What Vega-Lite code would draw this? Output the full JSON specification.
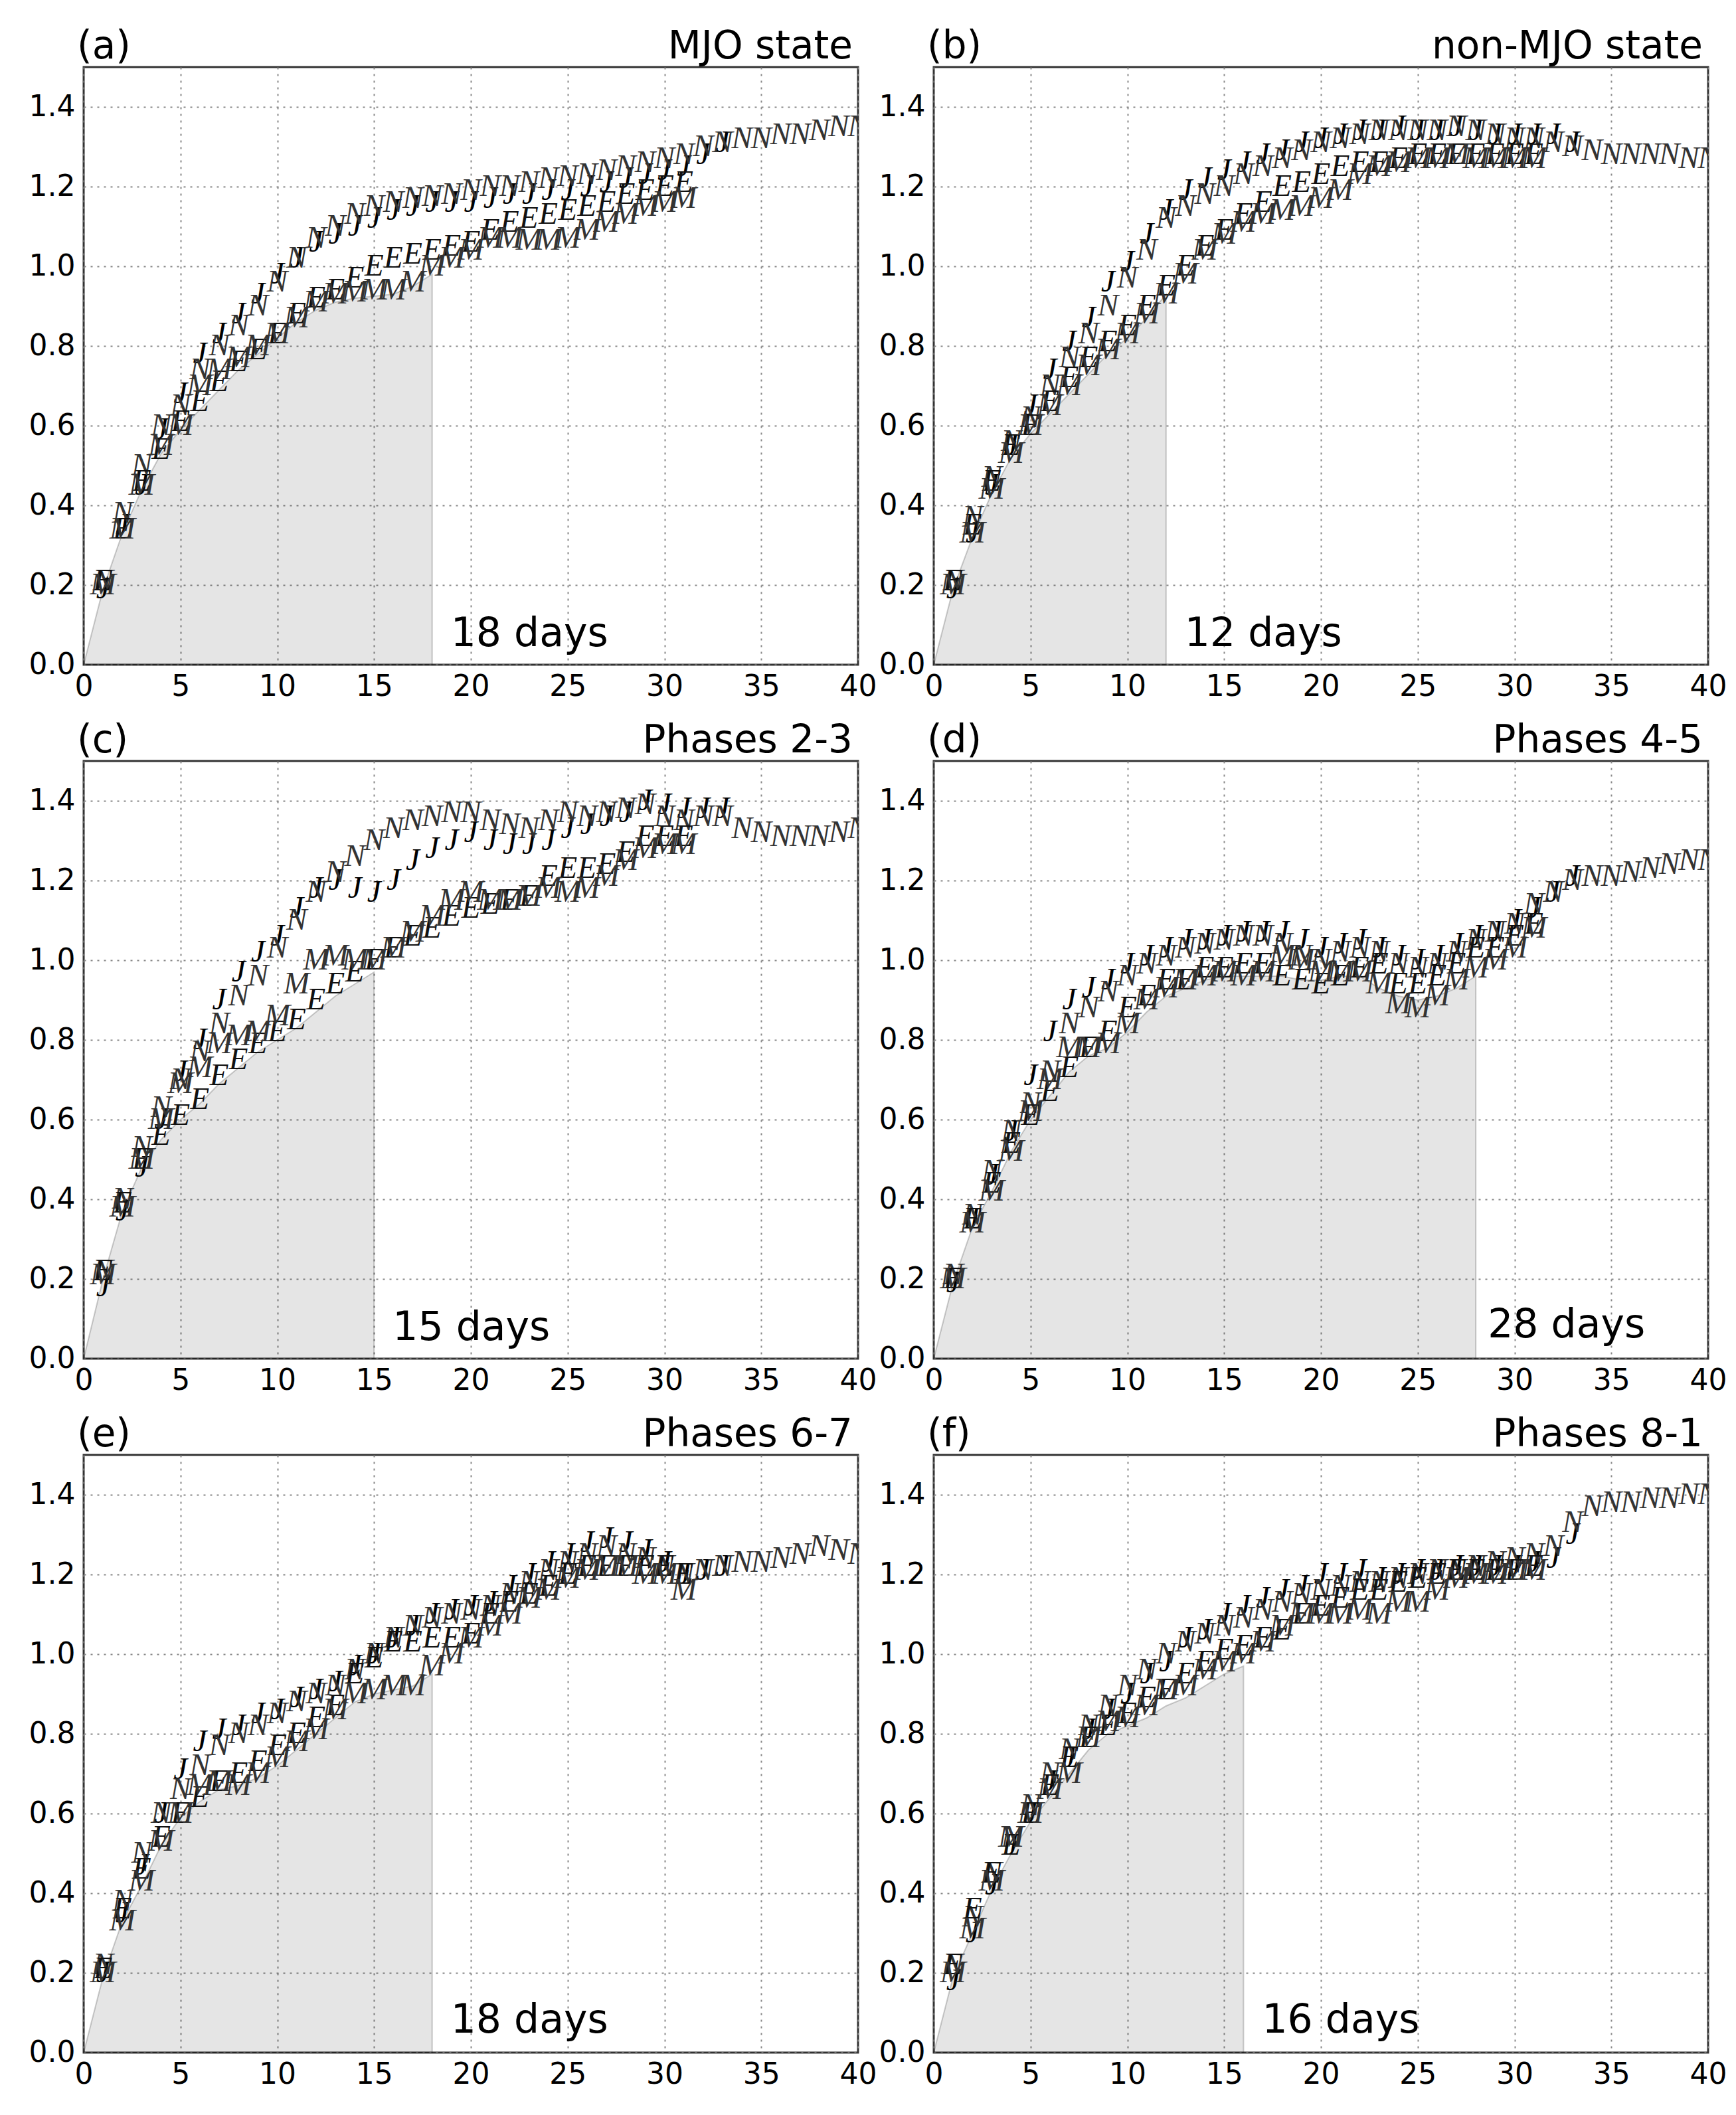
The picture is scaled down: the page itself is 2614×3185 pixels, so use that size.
{
  "$schema": "https://vega.github.io/schema/vega-lite/v6.json",
  "padding": {"left": 41, "top": 40, "right": 10, "bottom": 10},
  "datasets": {
    "panels": [
      {"p": "a", "tag": "(a)", "name": "MJO state", "cut": 18, "label": "18 days"},
      {"p": "b", "tag": "(b)", "name": "non-MJO state", "cut": 12, "label": "12 days"},
      {"p": "c", "tag": "(c)", "name": "Phases 2-3", "cut": 15, "label": "15 days"},
      {"p": "d", "tag": "(d)", "name": "Phases 4-5", "cut": 28, "label": "28 days"},
      {"p": "e", "tag": "(e)", "name": "Phases 6-7", "cut": 18, "label": "18 days"},
      {"p": "f", "tag": "(f)", "name": "Phases 8-1", "cut": 16, "label": "16 days"}
    ],
    "shade": [
      {"p":"a","d":0,"v":0},{"p":"a","d":1,"v":0.19},{"p":"a","d":2,"v":0.33},{"p":"a","d":3,"v":0.44},{"p":"a","d":4,"v":0.53},{"p":"a","d":5,"v":0.59},{"p":"a","d":6,"v":0.64},{"p":"a","d":7,"v":0.69},{"p":"a","d":8,"v":0.74},{"p":"a","d":9,"v":0.78},{"p":"a","d":10,"v":0.82},{"p":"a","d":11,"v":0.86},{"p":"a","d":12,"v":0.89},{"p":"a","d":13,"v":0.91},{"p":"a","d":14,"v":0.92},{"p":"a","d":15,"v":0.925},{"p":"a","d":16,"v":0.93},{"p":"a","d":17,"v":0.95},{"p":"a","d":18,"v":0.98},
      {"p":"b","d":0,"v":0},{"p":"b","d":1,"v":0.19},{"p":"b","d":2,"v":0.32},{"p":"b","d":3,"v":0.43},{"p":"b","d":4,"v":0.52},{"p":"b","d":5,"v":0.58},{"p":"b","d":6,"v":0.63},{"p":"b","d":7,"v":0.68},{"p":"b","d":8,"v":0.73},{"p":"b","d":9,"v":0.78},{"p":"b","d":10,"v":0.82},{"p":"b","d":11,"v":0.87},{"p":"b","d":12,"v":0.93},
      {"p":"c","d":0,"v":0},{"p":"c","d":1,"v":0.2},{"p":"c","d":2,"v":0.37},{"p":"c","d":3,"v":0.48},{"p":"c","d":4,"v":0.55},{"p":"c","d":5,"v":0.6},{"p":"c","d":6,"v":0.64},{"p":"c","d":7,"v":0.69},{"p":"c","d":8,"v":0.73},{"p":"c","d":9,"v":0.77},{"p":"c","d":10,"v":0.8},{"p":"c","d":11,"v":0.83},{"p":"c","d":12,"v":0.87},{"p":"c","d":13,"v":0.91},{"p":"c","d":14,"v":0.94},{"p":"c","d":15,"v":0.97},
      {"p":"d","d":0,"v":0},{"p":"d","d":1,"v":0.19},{"p":"d","d":2,"v":0.33},{"p":"d","d":3,"v":0.42},{"p":"d","d":4,"v":0.52},{"p":"d","d":5,"v":0.6},{"p":"d","d":6,"v":0.66},{"p":"d","d":7,"v":0.72},{"p":"d","d":8,"v":0.76},{"p":"d","d":9,"v":0.78},{"p":"d","d":10,"v":0.82},{"p":"d","d":11,"v":0.87},{"p":"d","d":12,"v":0.91},{"p":"d","d":13,"v":0.93},{"p":"d","d":14,"v":0.95},{"p":"d","d":15,"v":0.96},{"p":"d","d":16,"v":0.96},{"p":"d","d":17,"v":0.96},{"p":"d","d":18,"v":0.96},{"p":"d","d":19,"v":0.95},{"p":"d","d":20,"v":0.95},{"p":"d","d":21,"v":0.96},{"p":"d","d":22,"v":0.96},{"p":"d","d":23,"v":0.93},{"p":"d","d":24,"v":0.91},{"p":"d","d":25,"v":0.9},{"p":"d","d":26,"v":0.91},{"p":"d","d":27,"v":0.93},{"p":"d","d":28,"v":0.96},
      {"p":"e","d":0,"v":0},{"p":"e","d":1,"v":0.19},{"p":"e","d":2,"v":0.33},{"p":"e","d":3,"v":0.42},{"p":"e","d":4,"v":0.52},{"p":"e","d":5,"v":0.59},{"p":"e","d":6,"v":0.63},{"p":"e","d":7,"v":0.66},{"p":"e","d":8,"v":0.67},{"p":"e","d":9,"v":0.69},{"p":"e","d":10,"v":0.72},{"p":"e","d":11,"v":0.76},{"p":"e","d":12,"v":0.8},{"p":"e","d":13,"v":0.84},{"p":"e","d":14,"v":0.88},{"p":"e","d":15,"v":0.9},{"p":"e","d":16,"v":0.91},{"p":"e","d":17,"v":0.92},{"p":"e","d":18,"v":0.95},
      {"p":"f","d":0,"v":0},{"p":"f","d":1,"v":0.19},{"p":"f","d":2,"v":0.3},{"p":"f","d":3,"v":0.41},{"p":"f","d":4,"v":0.5},{"p":"f","d":5,"v":0.58},{"p":"f","d":6,"v":0.64},{"p":"f","d":7,"v":0.7},{"p":"f","d":8,"v":0.76},{"p":"f","d":9,"v":0.8},{"p":"f","d":10,"v":0.82},{"p":"f","d":11,"v":0.84},{"p":"f","d":12,"v":0.87},{"p":"f","d":13,"v":0.89},{"p":"f","d":14,"v":0.92},{"p":"f","d":15,"v":0.95},{"p":"f","d":16,"v":0.97}
    ],
    "pts": [
      {"p":"a","s":"J","d":1,"v":0.19},{"p":"a","s":"J","d":2,"v":0.35},{"p":"a","s":"J","d":3,"v":0.45},{"p":"a","s":"J","d":4,"v":0.59},{"p":"a","s":"J","d":5,"v":0.68},{"p":"a","s":"J","d":6,"v":0.78},{"p":"a","s":"J","d":7,"v":0.83},{"p":"a","s":"J","d":8,"v":0.88},{"p":"a","s":"J","d":9,"v":0.93},{"p":"a","s":"J","d":10,"v":0.98},{"p":"a","s":"J","d":11,"v":1.02},{"p":"a","s":"J","d":12,"v":1.06},{"p":"a","s":"J","d":13,"v":1.08},{"p":"a","s":"J","d":14,"v":1.1},{"p":"a","s":"J","d":15,"v":1.12},{"p":"a","s":"J","d":16,"v":1.14},{"p":"a","s":"J","d":17,"v":1.15},{"p":"a","s":"J","d":18,"v":1.16},{"p":"a","s":"J","d":19,"v":1.16},{"p":"a","s":"J","d":20,"v":1.16},{"p":"a","s":"J","d":21,"v":1.17},{"p":"a","s":"J","d":22,"v":1.18},{"p":"a","s":"J","d":23,"v":1.18},{"p":"a","s":"J","d":24,"v":1.19},{"p":"a","s":"J","d":25,"v":1.19},{"p":"a","s":"J","d":26,"v":1.2},{"p":"a","s":"J","d":27,"v":1.21},{"p":"a","s":"J","d":28,"v":1.22},{"p":"a","s":"J","d":29,"v":1.23},{"p":"a","s":"J","d":30,"v":1.24},{"p":"a","s":"J","d":31,"v":1.25},{"p":"a","s":"J","d":32,"v":1.28},{"p":"a","s":"J","d":33,"v":1.31},
      {"p":"a","s":"N","d":1,"v":0.21},{"p":"a","s":"N","d":2,"v":0.38},{"p":"a","s":"N","d":3,"v":0.5},{"p":"a","s":"N","d":4,"v":0.6},{"p":"a","s":"N","d":5,"v":0.65},{"p":"a","s":"N","d":6,"v":0.74},{"p":"a","s":"N","d":7,"v":0.8},{"p":"a","s":"N","d":8,"v":0.85},{"p":"a","s":"N","d":9,"v":0.9},{"p":"a","s":"N","d":10,"v":0.96},{"p":"a","s":"N","d":11,"v":1.02},{"p":"a","s":"N","d":12,"v":1.07},{"p":"a","s":"N","d":13,"v":1.1},{"p":"a","s":"N","d":14,"v":1.13},{"p":"a","s":"N","d":15,"v":1.15},{"p":"a","s":"N","d":16,"v":1.16},{"p":"a","s":"N","d":17,"v":1.17},{"p":"a","s":"N","d":18,"v":1.175},{"p":"a","s":"N","d":19,"v":1.18},{"p":"a","s":"N","d":20,"v":1.19},{"p":"a","s":"N","d":21,"v":1.2},{"p":"a","s":"N","d":22,"v":1.2},{"p":"a","s":"N","d":23,"v":1.21},{"p":"a","s":"N","d":24,"v":1.22},{"p":"a","s":"N","d":25,"v":1.225},{"p":"a","s":"N","d":26,"v":1.23},{"p":"a","s":"N","d":27,"v":1.24},{"p":"a","s":"N","d":28,"v":1.25},{"p":"a","s":"N","d":29,"v":1.26},{"p":"a","s":"N","d":30,"v":1.27},{"p":"a","s":"N","d":31,"v":1.28},{"p":"a","s":"N","d":32,"v":1.3},{"p":"a","s":"N","d":33,"v":1.31},{"p":"a","s":"N","d":34,"v":1.32},{"p":"a","s":"N","d":35,"v":1.32},{"p":"a","s":"N","d":36,"v":1.33},{"p":"a","s":"N","d":37,"v":1.33},{"p":"a","s":"N","d":38,"v":1.34},{"p":"a","s":"N","d":39,"v":1.35},{"p":"a","s":"N","d":40,"v":1.35},
      {"p":"a","s":"E","d":1,"v":0.21},{"p":"a","s":"E","d":2,"v":0.34},{"p":"a","s":"E","d":3,"v":0.46},{"p":"a","s":"E","d":4,"v":0.54},{"p":"a","s":"E","d":5,"v":0.61},{"p":"a","s":"E","d":6,"v":0.66},{"p":"a","s":"E","d":7,"v":0.71},{"p":"a","s":"E","d":8,"v":0.76},{"p":"a","s":"E","d":9,"v":0.79},{"p":"a","s":"E","d":10,"v":0.83},{"p":"a","s":"E","d":11,"v":0.88},{"p":"a","s":"E","d":12,"v":0.92},{"p":"a","s":"E","d":13,"v":0.94},{"p":"a","s":"E","d":14,"v":0.97},{"p":"a","s":"E","d":15,"v":1.0},{"p":"a","s":"E","d":16,"v":1.02},{"p":"a","s":"E","d":17,"v":1.03},{"p":"a","s":"E","d":18,"v":1.04},{"p":"a","s":"E","d":19,"v":1.05},{"p":"a","s":"E","d":20,"v":1.06},{"p":"a","s":"E","d":21,"v":1.09},{"p":"a","s":"E","d":22,"v":1.11},{"p":"a","s":"E","d":23,"v":1.12},{"p":"a","s":"E","d":24,"v":1.13},{"p":"a","s":"E","d":25,"v":1.14},{"p":"a","s":"E","d":26,"v":1.15},{"p":"a","s":"E","d":27,"v":1.16},{"p":"a","s":"E","d":28,"v":1.18},{"p":"a","s":"E","d":29,"v":1.19},{"p":"a","s":"E","d":30,"v":1.2},{"p":"a","s":"E","d":31,"v":1.21},
      {"p":"a","s":"M","d":1,"v":0.2},{"p":"a","s":"M","d":2,"v":0.34},{"p":"a","s":"M","d":3,"v":0.45},{"p":"a","s":"M","d":4,"v":0.55},{"p":"a","s":"M","d":5,"v":0.6},{"p":"a","s":"M","d":6,"v":0.7},{"p":"a","s":"M","d":7,"v":0.74},{"p":"a","s":"M","d":8,"v":0.77},{"p":"a","s":"M","d":9,"v":0.8},{"p":"a","s":"M","d":10,"v":0.83},{"p":"a","s":"M","d":11,"v":0.87},{"p":"a","s":"M","d":12,"v":0.91},{"p":"a","s":"M","d":13,"v":0.93},{"p":"a","s":"M","d":14,"v":0.935},{"p":"a","s":"M","d":15,"v":0.94},{"p":"a","s":"M","d":16,"v":0.94},{"p":"a","s":"M","d":17,"v":0.96},{"p":"a","s":"M","d":18,"v":1.0},{"p":"a","s":"M","d":19,"v":1.02},{"p":"a","s":"M","d":20,"v":1.04},{"p":"a","s":"M","d":21,"v":1.07},{"p":"a","s":"M","d":22,"v":1.07},{"p":"a","s":"M","d":23,"v":1.065},{"p":"a","s":"M","d":24,"v":1.065},{"p":"a","s":"M","d":25,"v":1.07},{"p":"a","s":"M","d":26,"v":1.09},{"p":"a","s":"M","d":27,"v":1.11},{"p":"a","s":"M","d":28,"v":1.13},{"p":"a","s":"M","d":29,"v":1.15},{"p":"a","s":"M","d":30,"v":1.16},{"p":"a","s":"M","d":31,"v":1.17},

      {"p":"b","s":"J","d":1,"v":0.19},{"p":"b","s":"J","d":2,"v":0.33},{"p":"b","s":"J","d":3,"v":0.45},{"p":"b","s":"J","d":4,"v":0.55},{"p":"b","s":"J","d":5,"v":0.65},{"p":"b","s":"J","d":6,"v":0.74},{"p":"b","s":"J","d":7,"v":0.81},{"p":"b","s":"J","d":8,"v":0.87},{"p":"b","s":"J","d":9,"v":0.96},{"p":"b","s":"J","d":10,"v":1.01},{"p":"b","s":"J","d":11,"v":1.08},{"p":"b","s":"J","d":12,"v":1.14},{"p":"b","s":"J","d":13,"v":1.19},{"p":"b","s":"J","d":14,"v":1.22},{"p":"b","s":"J","d":15,"v":1.24},{"p":"b","s":"J","d":16,"v":1.26},{"p":"b","s":"J","d":17,"v":1.28},{"p":"b","s":"J","d":18,"v":1.29},{"p":"b","s":"J","d":19,"v":1.31},{"p":"b","s":"J","d":20,"v":1.32},{"p":"b","s":"J","d":21,"v":1.33},{"p":"b","s":"J","d":22,"v":1.34},{"p":"b","s":"J","d":23,"v":1.34},{"p":"b","s":"J","d":24,"v":1.35},{"p":"b","s":"J","d":25,"v":1.34},{"p":"b","s":"J","d":26,"v":1.34},{"p":"b","s":"J","d":27,"v":1.35},{"p":"b","s":"J","d":28,"v":1.34},{"p":"b","s":"J","d":29,"v":1.33},{"p":"b","s":"J","d":30,"v":1.33},{"p":"b","s":"J","d":31,"v":1.33},{"p":"b","s":"J","d":32,"v":1.33},{"p":"b","s":"J","d":33,"v":1.31},
      {"p":"b","s":"N","d":1,"v":0.21},{"p":"b","s":"N","d":2,"v":0.37},{"p":"b","s":"N","d":3,"v":0.47},{"p":"b","s":"N","d":4,"v":0.56},{"p":"b","s":"N","d":5,"v":0.62},{"p":"b","s":"N","d":6,"v":0.7},{"p":"b","s":"N","d":7,"v":0.77},{"p":"b","s":"N","d":8,"v":0.83},{"p":"b","s":"N","d":9,"v":0.9},{"p":"b","s":"N","d":10,"v":0.97},{"p":"b","s":"N","d":11,"v":1.04},{"p":"b","s":"N","d":12,"v":1.12},{"p":"b","s":"N","d":13,"v":1.15},{"p":"b","s":"N","d":14,"v":1.18},{"p":"b","s":"N","d":15,"v":1.2},{"p":"b","s":"N","d":16,"v":1.23},{"p":"b","s":"N","d":17,"v":1.25},{"p":"b","s":"N","d":18,"v":1.27},{"p":"b","s":"N","d":19,"v":1.29},{"p":"b","s":"N","d":20,"v":1.31},{"p":"b","s":"N","d":21,"v":1.32},{"p":"b","s":"N","d":22,"v":1.33},{"p":"b","s":"N","d":23,"v":1.34},{"p":"b","s":"N","d":24,"v":1.34},{"p":"b","s":"N","d":25,"v":1.34},{"p":"b","s":"N","d":26,"v":1.34},{"p":"b","s":"N","d":27,"v":1.35},{"p":"b","s":"N","d":28,"v":1.34},{"p":"b","s":"N","d":29,"v":1.33},{"p":"b","s":"N","d":30,"v":1.32},{"p":"b","s":"N","d":31,"v":1.32},{"p":"b","s":"N","d":32,"v":1.31},{"p":"b","s":"N","d":33,"v":1.3},{"p":"b","s":"N","d":34,"v":1.29},{"p":"b","s":"N","d":35,"v":1.28},{"p":"b","s":"N","d":36,"v":1.28},{"p":"b","s":"N","d":37,"v":1.28},{"p":"b","s":"N","d":38,"v":1.28},{"p":"b","s":"N","d":39,"v":1.27},{"p":"b","s":"N","d":40,"v":1.27},
      {"p":"b","s":"E","d":1,"v":0.21},{"p":"b","s":"E","d":2,"v":0.35},{"p":"b","s":"E","d":3,"v":0.46},{"p":"b","s":"E","d":4,"v":0.55},{"p":"b","s":"E","d":5,"v":0.6},{"p":"b","s":"E","d":6,"v":0.66},{"p":"b","s":"E","d":7,"v":0.72},{"p":"b","s":"E","d":8,"v":0.77},{"p":"b","s":"E","d":9,"v":0.81},{"p":"b","s":"E","d":10,"v":0.85},{"p":"b","s":"E","d":11,"v":0.9},{"p":"b","s":"E","d":12,"v":0.95},{"p":"b","s":"E","d":13,"v":1.0},{"p":"b","s":"E","d":14,"v":1.05},{"p":"b","s":"E","d":15,"v":1.09},{"p":"b","s":"E","d":16,"v":1.13},{"p":"b","s":"E","d":17,"v":1.16},{"p":"b","s":"E","d":18,"v":1.2},{"p":"b","s":"E","d":19,"v":1.21},{"p":"b","s":"E","d":20,"v":1.23},{"p":"b","s":"E","d":21,"v":1.25},{"p":"b","s":"E","d":22,"v":1.26},{"p":"b","s":"E","d":23,"v":1.26},{"p":"b","s":"E","d":24,"v":1.27},{"p":"b","s":"E","d":25,"v":1.28},{"p":"b","s":"E","d":26,"v":1.28},{"p":"b","s":"E","d":27,"v":1.28},{"p":"b","s":"E","d":28,"v":1.28},{"p":"b","s":"E","d":29,"v":1.28},{"p":"b","s":"E","d":30,"v":1.28},{"p":"b","s":"E","d":31,"v":1.28},
      {"p":"b","s":"M","d":1,"v":0.2},{"p":"b","s":"M","d":2,"v":0.33},{"p":"b","s":"M","d":3,"v":0.44},{"p":"b","s":"M","d":4,"v":0.53},{"p":"b","s":"M","d":5,"v":0.6},{"p":"b","s":"M","d":6,"v":0.65},{"p":"b","s":"M","d":7,"v":0.7},{"p":"b","s":"M","d":8,"v":0.75},{"p":"b","s":"M","d":9,"v":0.79},{"p":"b","s":"M","d":10,"v":0.83},{"p":"b","s":"M","d":11,"v":0.88},{"p":"b","s":"M","d":12,"v":0.93},{"p":"b","s":"M","d":13,"v":0.98},{"p":"b","s":"M","d":14,"v":1.04},{"p":"b","s":"M","d":15,"v":1.08},{"p":"b","s":"M","d":16,"v":1.11},{"p":"b","s":"M","d":17,"v":1.13},{"p":"b","s":"M","d":18,"v":1.14},{"p":"b","s":"M","d":19,"v":1.15},{"p":"b","s":"M","d":20,"v":1.17},{"p":"b","s":"M","d":21,"v":1.19},{"p":"b","s":"M","d":22,"v":1.23},{"p":"b","s":"M","d":23,"v":1.25},{"p":"b","s":"M","d":24,"v":1.26},{"p":"b","s":"M","d":25,"v":1.27},{"p":"b","s":"M","d":26,"v":1.27},{"p":"b","s":"M","d":27,"v":1.28},{"p":"b","s":"M","d":28,"v":1.27},{"p":"b","s":"M","d":29,"v":1.27},{"p":"b","s":"M","d":30,"v":1.27},{"p":"b","s":"M","d":31,"v":1.27},

      {"p":"c","s":"J","d":1,"v":0.18},{"p":"c","s":"J","d":2,"v":0.37},{"p":"c","s":"J","d":3,"v":0.48},{"p":"c","s":"J","d":4,"v":0.6},{"p":"c","s":"J","d":5,"v":0.72},{"p":"c","s":"J","d":6,"v":0.8},{"p":"c","s":"J","d":7,"v":0.9},{"p":"c","s":"J","d":8,"v":0.97},{"p":"c","s":"J","d":9,"v":1.02},{"p":"c","s":"J","d":10,"v":1.06},{"p":"c","s":"J","d":11,"v":1.13},{"p":"c","s":"J","d":12,"v":1.18},{"p":"c","s":"J","d":13,"v":1.2},{"p":"c","s":"J","d":14,"v":1.18},{"p":"c","s":"J","d":15,"v":1.17},{"p":"c","s":"J","d":16,"v":1.2},{"p":"c","s":"J","d":17,"v":1.25},{"p":"c","s":"J","d":18,"v":1.28},{"p":"c","s":"J","d":19,"v":1.3},{"p":"c","s":"J","d":20,"v":1.32},{"p":"c","s":"J","d":21,"v":1.3},{"p":"c","s":"J","d":22,"v":1.29},{"p":"c","s":"J","d":23,"v":1.29},{"p":"c","s":"J","d":24,"v":1.3},{"p":"c","s":"J","d":25,"v":1.33},{"p":"c","s":"J","d":26,"v":1.34},{"p":"c","s":"J","d":27,"v":1.36},{"p":"c","s":"J","d":28,"v":1.37},{"p":"c","s":"J","d":29,"v":1.4},{"p":"c","s":"J","d":30,"v":1.39},{"p":"c","s":"J","d":31,"v":1.38},{"p":"c","s":"J","d":32,"v":1.38},{"p":"c","s":"J","d":33,"v":1.38},
      {"p":"c","s":"N","d":1,"v":0.22},{"p":"c","s":"N","d":2,"v":0.4},{"p":"c","s":"N","d":3,"v":0.53},{"p":"c","s":"N","d":4,"v":0.63},{"p":"c","s":"N","d":5,"v":0.7},{"p":"c","s":"N","d":6,"v":0.77},{"p":"c","s":"N","d":7,"v":0.84},{"p":"c","s":"N","d":8,"v":0.91},{"p":"c","s":"N","d":9,"v":0.96},{"p":"c","s":"N","d":10,"v":1.03},{"p":"c","s":"N","d":11,"v":1.1},{"p":"c","s":"N","d":12,"v":1.17},{"p":"c","s":"N","d":13,"v":1.22},{"p":"c","s":"N","d":14,"v":1.26},{"p":"c","s":"N","d":15,"v":1.3},{"p":"c","s":"N","d":16,"v":1.33},{"p":"c","s":"N","d":17,"v":1.35},{"p":"c","s":"N","d":18,"v":1.36},{"p":"c","s":"N","d":19,"v":1.37},{"p":"c","s":"N","d":20,"v":1.37},{"p":"c","s":"N","d":21,"v":1.35},{"p":"c","s":"N","d":22,"v":1.34},{"p":"c","s":"N","d":23,"v":1.33},{"p":"c","s":"N","d":24,"v":1.35},{"p":"c","s":"N","d":25,"v":1.37},{"p":"c","s":"N","d":26,"v":1.36},{"p":"c","s":"N","d":27,"v":1.37},{"p":"c","s":"N","d":28,"v":1.38},{"p":"c","s":"N","d":29,"v":1.39},{"p":"c","s":"N","d":30,"v":1.36},{"p":"c","s":"N","d":31,"v":1.35},{"p":"c","s":"N","d":32,"v":1.36},{"p":"c","s":"N","d":33,"v":1.36},{"p":"c","s":"N","d":34,"v":1.33},{"p":"c","s":"N","d":35,"v":1.32},{"p":"c","s":"N","d":36,"v":1.31},{"p":"c","s":"N","d":37,"v":1.31},{"p":"c","s":"N","d":38,"v":1.31},{"p":"c","s":"N","d":39,"v":1.32},{"p":"c","s":"N","d":40,"v":1.33},
      {"p":"c","s":"E","d":1,"v":0.22},{"p":"c","s":"E","d":2,"v":0.39},{"p":"c","s":"E","d":3,"v":0.5},{"p":"c","s":"E","d":4,"v":0.56},{"p":"c","s":"E","d":5,"v":0.61},{"p":"c","s":"E","d":6,"v":0.65},{"p":"c","s":"E","d":7,"v":0.71},{"p":"c","s":"E","d":8,"v":0.75},{"p":"c","s":"E","d":9,"v":0.79},{"p":"c","s":"E","d":10,"v":0.82},{"p":"c","s":"E","d":11,"v":0.85},{"p":"c","s":"E","d":12,"v":0.9},{"p":"c","s":"E","d":13,"v":0.94},{"p":"c","s":"E","d":14,"v":0.97},{"p":"c","s":"E","d":15,"v":1.0},{"p":"c","s":"E","d":16,"v":1.03},{"p":"c","s":"E","d":17,"v":1.06},{"p":"c","s":"E","d":18,"v":1.08},{"p":"c","s":"E","d":19,"v":1.11},{"p":"c","s":"E","d":20,"v":1.13},{"p":"c","s":"E","d":21,"v":1.14},{"p":"c","s":"E","d":22,"v":1.15},{"p":"c","s":"E","d":23,"v":1.16},{"p":"c","s":"E","d":24,"v":1.21},{"p":"c","s":"E","d":25,"v":1.23},{"p":"c","s":"E","d":26,"v":1.23},{"p":"c","s":"E","d":27,"v":1.24},{"p":"c","s":"E","d":28,"v":1.27},{"p":"c","s":"E","d":29,"v":1.31},{"p":"c","s":"E","d":30,"v":1.31},{"p":"c","s":"E","d":31,"v":1.31},
      {"p":"c","s":"M","d":1,"v":0.21},{"p":"c","s":"M","d":2,"v":0.38},{"p":"c","s":"M","d":3,"v":0.5},{"p":"c","s":"M","d":4,"v":0.6},{"p":"c","s":"M","d":5,"v":0.69},{"p":"c","s":"M","d":6,"v":0.73},{"p":"c","s":"M","d":7,"v":0.79},{"p":"c","s":"M","d":8,"v":0.81},{"p":"c","s":"M","d":9,"v":0.82},{"p":"c","s":"M","d":10,"v":0.86},{"p":"c","s":"M","d":11,"v":0.94},{"p":"c","s":"M","d":12,"v":1.0},{"p":"c","s":"M","d":13,"v":1.01},{"p":"c","s":"M","d":14,"v":1.0},{"p":"c","s":"M","d":15,"v":1.0},{"p":"c","s":"M","d":16,"v":1.03},{"p":"c","s":"M","d":17,"v":1.07},{"p":"c","s":"M","d":18,"v":1.11},{"p":"c","s":"M","d":19,"v":1.15},{"p":"c","s":"M","d":20,"v":1.17},{"p":"c","s":"M","d":21,"v":1.15},{"p":"c","s":"M","d":22,"v":1.15},{"p":"c","s":"M","d":23,"v":1.16},{"p":"c","s":"M","d":24,"v":1.18},{"p":"c","s":"M","d":25,"v":1.17},{"p":"c","s":"M","d":26,"v":1.18},{"p":"c","s":"M","d":27,"v":1.21},{"p":"c","s":"M","d":28,"v":1.25},{"p":"c","s":"M","d":29,"v":1.28},{"p":"c","s":"M","d":30,"v":1.29},{"p":"c","s":"M","d":31,"v":1.29},

      {"p":"d","s":"J","d":1,"v":0.19},{"p":"d","s":"J","d":2,"v":0.35},{"p":"d","s":"J","d":3,"v":0.46},{"p":"d","s":"J","d":4,"v":0.57},{"p":"d","s":"J","d":5,"v":0.71},{"p":"d","s":"J","d":6,"v":0.82},{"p":"d","s":"J","d":7,"v":0.9},{"p":"d","s":"J","d":8,"v":0.93},{"p":"d","s":"J","d":9,"v":0.95},{"p":"d","s":"J","d":10,"v":0.99},{"p":"d","s":"J","d":11,"v":1.01},{"p":"d","s":"J","d":12,"v":1.03},{"p":"d","s":"J","d":13,"v":1.05},{"p":"d","s":"J","d":14,"v":1.05},{"p":"d","s":"J","d":15,"v":1.06},{"p":"d","s":"J","d":16,"v":1.07},{"p":"d","s":"J","d":17,"v":1.07},{"p":"d","s":"J","d":18,"v":1.07},{"p":"d","s":"J","d":19,"v":1.05},{"p":"d","s":"J","d":20,"v":1.03},{"p":"d","s":"J","d":21,"v":1.04},{"p":"d","s":"J","d":22,"v":1.05},{"p":"d","s":"J","d":23,"v":1.03},{"p":"d","s":"J","d":24,"v":1.01},{"p":"d","s":"J","d":25,"v":1.0},{"p":"d","s":"J","d":26,"v":1.01},{"p":"d","s":"J","d":27,"v":1.04},{"p":"d","s":"J","d":28,"v":1.06},{"p":"d","s":"J","d":29,"v":1.07},{"p":"d","s":"J","d":30,"v":1.1},{"p":"d","s":"J","d":31,"v":1.13},{"p":"d","s":"J","d":32,"v":1.17},{"p":"d","s":"J","d":33,"v":1.21},
      {"p":"d","s":"N","d":1,"v":0.21},{"p":"d","s":"N","d":2,"v":0.36},{"p":"d","s":"N","d":3,"v":0.47},{"p":"d","s":"N","d":4,"v":0.57},{"p":"d","s":"N","d":5,"v":0.64},{"p":"d","s":"N","d":6,"v":0.72},{"p":"d","s":"N","d":7,"v":0.84},{"p":"d","s":"N","d":8,"v":0.88},{"p":"d","s":"N","d":9,"v":0.92},{"p":"d","s":"N","d":10,"v":0.96},{"p":"d","s":"N","d":11,"v":0.99},{"p":"d","s":"N","d":12,"v":1.01},{"p":"d","s":"N","d":13,"v":1.03},{"p":"d","s":"N","d":14,"v":1.04},{"p":"d","s":"N","d":15,"v":1.05},{"p":"d","s":"N","d":16,"v":1.06},{"p":"d","s":"N","d":17,"v":1.06},{"p":"d","s":"N","d":18,"v":1.04},{"p":"d","s":"N","d":19,"v":1.01},{"p":"d","s":"N","d":20,"v":1.0},{"p":"d","s":"N","d":21,"v":1.02},{"p":"d","s":"N","d":22,"v":1.03},{"p":"d","s":"N","d":23,"v":1.02},{"p":"d","s":"N","d":24,"v":0.99},{"p":"d","s":"N","d":25,"v":0.98},{"p":"d","s":"N","d":26,"v":0.99},{"p":"d","s":"N","d":27,"v":1.02},{"p":"d","s":"N","d":28,"v":1.05},{"p":"d","s":"N","d":29,"v":1.07},{"p":"d","s":"N","d":30,"v":1.09},{"p":"d","s":"N","d":31,"v":1.14},{"p":"d","s":"N","d":32,"v":1.17},{"p":"d","s":"N","d":33,"v":1.2},{"p":"d","s":"N","d":34,"v":1.21},{"p":"d","s":"N","d":35,"v":1.21},{"p":"d","s":"N","d":36,"v":1.22},{"p":"d","s":"N","d":37,"v":1.23},{"p":"d","s":"N","d":38,"v":1.24},{"p":"d","s":"N","d":39,"v":1.25},{"p":"d","s":"N","d":40,"v":1.25},
      {"p":"d","s":"E","d":1,"v":0.2},{"p":"d","s":"E","d":2,"v":0.35},{"p":"d","s":"E","d":3,"v":0.44},{"p":"d","s":"E","d":4,"v":0.54},{"p":"d","s":"E","d":5,"v":0.61},{"p":"d","s":"E","d":6,"v":0.67},{"p":"d","s":"E","d":7,"v":0.73},{"p":"d","s":"E","d":8,"v":0.78},{"p":"d","s":"E","d":9,"v":0.82},{"p":"d","s":"E","d":10,"v":0.88},{"p":"d","s":"E","d":11,"v":0.91},{"p":"d","s":"E","d":12,"v":0.95},{"p":"d","s":"E","d":13,"v":0.95},{"p":"d","s":"E","d":14,"v":0.98},{"p":"d","s":"E","d":15,"v":0.98},{"p":"d","s":"E","d":16,"v":0.99},{"p":"d","s":"E","d":17,"v":0.99},{"p":"d","s":"E","d":18,"v":0.96},{"p":"d","s":"E","d":19,"v":0.95},{"p":"d","s":"E","d":20,"v":0.94},{"p":"d","s":"E","d":21,"v":0.96},{"p":"d","s":"E","d":22,"v":0.98},{"p":"d","s":"E","d":23,"v":0.99},{"p":"d","s":"E","d":24,"v":0.94},{"p":"d","s":"E","d":25,"v":0.94},{"p":"d","s":"E","d":26,"v":0.96},{"p":"d","s":"E","d":27,"v":0.99},{"p":"d","s":"E","d":28,"v":1.03},{"p":"d","s":"E","d":29,"v":1.03},{"p":"d","s":"E","d":30,"v":1.06},{"p":"d","s":"E","d":31,"v":1.09},
      {"p":"d","s":"M","d":1,"v":0.2},{"p":"d","s":"M","d":2,"v":0.34},{"p":"d","s":"M","d":3,"v":0.42},{"p":"d","s":"M","d":4,"v":0.52},{"p":"d","s":"M","d":5,"v":0.62},{"p":"d","s":"M","d":6,"v":0.7},{"p":"d","s":"M","d":7,"v":0.78},{"p":"d","s":"M","d":8,"v":0.78},{"p":"d","s":"M","d":9,"v":0.79},{"p":"d","s":"M","d":10,"v":0.84},{"p":"d","s":"M","d":11,"v":0.9},{"p":"d","s":"M","d":12,"v":0.93},{"p":"d","s":"M","d":13,"v":0.95},{"p":"d","s":"M","d":14,"v":0.96},{"p":"d","s":"M","d":15,"v":0.97},{"p":"d","s":"M","d":16,"v":0.96},{"p":"d","s":"M","d":17,"v":0.97},{"p":"d","s":"M","d":18,"v":1.01},{"p":"d","s":"M","d":19,"v":1.0},{"p":"d","s":"M","d":20,"v":0.97},{"p":"d","s":"M","d":21,"v":0.97},{"p":"d","s":"M","d":22,"v":0.97},{"p":"d","s":"M","d":23,"v":0.94},{"p":"d","s":"M","d":24,"v":0.89},{"p":"d","s":"M","d":25,"v":0.88},{"p":"d","s":"M","d":26,"v":0.91},{"p":"d","s":"M","d":27,"v":0.95},{"p":"d","s":"M","d":28,"v":0.98},{"p":"d","s":"M","d":29,"v":1.0},{"p":"d","s":"M","d":30,"v":1.03},{"p":"d","s":"M","d":31,"v":1.08},

      {"p":"e","s":"J","d":1,"v":0.2},{"p":"e","s":"J","d":2,"v":0.35},{"p":"e","s":"J","d":3,"v":0.47},{"p":"e","s":"J","d":4,"v":0.6},{"p":"e","s":"J","d":5,"v":0.71},{"p":"e","s":"J","d":6,"v":0.78},{"p":"e","s":"J","d":7,"v":0.81},{"p":"e","s":"J","d":8,"v":0.82},{"p":"e","s":"J","d":9,"v":0.85},{"p":"e","s":"J","d":10,"v":0.86},{"p":"e","s":"J","d":11,"v":0.89},{"p":"e","s":"J","d":12,"v":0.91},{"p":"e","s":"J","d":13,"v":0.93},{"p":"e","s":"J","d":14,"v":0.97},{"p":"e","s":"J","d":15,"v":1.0},{"p":"e","s":"J","d":16,"v":1.04},{"p":"e","s":"J","d":17,"v":1.07},{"p":"e","s":"J","d":18,"v":1.1},{"p":"e","s":"J","d":19,"v":1.11},{"p":"e","s":"J","d":20,"v":1.12},{"p":"e","s":"J","d":21,"v":1.13},{"p":"e","s":"J","d":22,"v":1.17},{"p":"e","s":"J","d":23,"v":1.2},{"p":"e","s":"J","d":24,"v":1.23},{"p":"e","s":"J","d":25,"v":1.25},{"p":"e","s":"J","d":26,"v":1.28},{"p":"e","s":"J","d":27,"v":1.29},{"p":"e","s":"J","d":28,"v":1.28},{"p":"e","s":"J","d":29,"v":1.26},{"p":"e","s":"J","d":30,"v":1.23},{"p":"e","s":"J","d":31,"v":1.2},{"p":"e","s":"J","d":32,"v":1.21},{"p":"e","s":"J","d":33,"v":1.22},
      {"p":"e","s":"N","d":1,"v":0.22},{"p":"e","s":"N","d":2,"v":0.38},{"p":"e","s":"N","d":3,"v":0.5},{"p":"e","s":"N","d":4,"v":0.6},{"p":"e","s":"N","d":5,"v":0.66},{"p":"e","s":"N","d":6,"v":0.72},{"p":"e","s":"N","d":7,"v":0.77},{"p":"e","s":"N","d":8,"v":0.8},{"p":"e","s":"N","d":9,"v":0.82},{"p":"e","s":"N","d":10,"v":0.85},{"p":"e","s":"N","d":11,"v":0.88},{"p":"e","s":"N","d":12,"v":0.9},{"p":"e","s":"N","d":13,"v":0.92},{"p":"e","s":"N","d":14,"v":0.96},{"p":"e","s":"N","d":15,"v":1.0},{"p":"e","s":"N","d":16,"v":1.04},{"p":"e","s":"N","d":17,"v":1.07},{"p":"e","s":"N","d":18,"v":1.09},{"p":"e","s":"N","d":19,"v":1.1},{"p":"e","s":"N","d":20,"v":1.11},{"p":"e","s":"N","d":21,"v":1.12},{"p":"e","s":"N","d":22,"v":1.15},{"p":"e","s":"N","d":23,"v":1.18},{"p":"e","s":"N","d":24,"v":1.21},{"p":"e","s":"N","d":25,"v":1.23},{"p":"e","s":"N","d":26,"v":1.25},{"p":"e","s":"N","d":27,"v":1.27},{"p":"e","s":"N","d":28,"v":1.25},{"p":"e","s":"N","d":29,"v":1.24},{"p":"e","s":"N","d":30,"v":1.22},{"p":"e","s":"N","d":31,"v":1.2},{"p":"e","s":"N","d":32,"v":1.21},{"p":"e","s":"N","d":33,"v":1.22},{"p":"e","s":"N","d":34,"v":1.23},{"p":"e","s":"N","d":35,"v":1.23},{"p":"e","s":"N","d":36,"v":1.24},{"p":"e","s":"N","d":37,"v":1.25},{"p":"e","s":"N","d":38,"v":1.27},{"p":"e","s":"N","d":39,"v":1.26},{"p":"e","s":"N","d":40,"v":1.25},
      {"p":"e","s":"E","d":1,"v":0.21},{"p":"e","s":"E","d":2,"v":0.36},{"p":"e","s":"E","d":3,"v":0.46},{"p":"e","s":"E","d":4,"v":0.54},{"p":"e","s":"E","d":5,"v":0.6},{"p":"e","s":"E","d":6,"v":0.64},{"p":"e","s":"E","d":7,"v":0.68},{"p":"e","s":"E","d":8,"v":0.7},{"p":"e","s":"E","d":9,"v":0.73},{"p":"e","s":"E","d":10,"v":0.77},{"p":"e","s":"E","d":11,"v":0.8},{"p":"e","s":"E","d":12,"v":0.84},{"p":"e","s":"E","d":13,"v":0.87},{"p":"e","s":"E","d":14,"v":0.95},{"p":"e","s":"E","d":15,"v":0.99},{"p":"e","s":"E","d":16,"v":1.03},{"p":"e","s":"E","d":17,"v":1.03},{"p":"e","s":"E","d":18,"v":1.04},{"p":"e","s":"E","d":19,"v":1.04},{"p":"e","s":"E","d":20,"v":1.05},{"p":"e","s":"E","d":21,"v":1.1},{"p":"e","s":"E","d":22,"v":1.13},{"p":"e","s":"E","d":23,"v":1.15},{"p":"e","s":"E","d":24,"v":1.17},{"p":"e","s":"E","d":25,"v":1.2},{"p":"e","s":"E","d":26,"v":1.22},{"p":"e","s":"E","d":27,"v":1.22},{"p":"e","s":"E","d":28,"v":1.22},{"p":"e","s":"E","d":29,"v":1.22},{"p":"e","s":"E","d":30,"v":1.22},{"p":"e","s":"E","d":31,"v":1.2},
      {"p":"e","s":"M","d":1,"v":0.2},{"p":"e","s":"M","d":2,"v":0.33},{"p":"e","s":"M","d":3,"v":0.43},{"p":"e","s":"M","d":4,"v":0.53},{"p":"e","s":"M","d":5,"v":0.6},{"p":"e","s":"M","d":6,"v":0.67},{"p":"e","s":"M","d":7,"v":0.68},{"p":"e","s":"M","d":8,"v":0.67},{"p":"e","s":"M","d":9,"v":0.7},{"p":"e","s":"M","d":10,"v":0.74},{"p":"e","s":"M","d":11,"v":0.78},{"p":"e","s":"M","d":12,"v":0.81},{"p":"e","s":"M","d":13,"v":0.86},{"p":"e","s":"M","d":14,"v":0.9},{"p":"e","s":"M","d":15,"v":0.91},{"p":"e","s":"M","d":16,"v":0.92},{"p":"e","s":"M","d":17,"v":0.92},{"p":"e","s":"M","d":18,"v":0.97},{"p":"e","s":"M","d":19,"v":1.0},{"p":"e","s":"M","d":20,"v":1.04},{"p":"e","s":"M","d":21,"v":1.07},{"p":"e","s":"M","d":22,"v":1.1},{"p":"e","s":"M","d":23,"v":1.14},{"p":"e","s":"M","d":24,"v":1.16},{"p":"e","s":"M","d":25,"v":1.19},{"p":"e","s":"M","d":26,"v":1.21},{"p":"e","s":"M","d":27,"v":1.22},{"p":"e","s":"M","d":28,"v":1.22},{"p":"e","s":"M","d":29,"v":1.2},{"p":"e","s":"M","d":30,"v":1.2},{"p":"e","s":"M","d":31,"v":1.16},

      {"p":"f","s":"J","d":1,"v":0.18},{"p":"f","s":"J","d":2,"v":0.3},{"p":"f","s":"J","d":3,"v":0.42},{"p":"f","s":"J","d":4,"v":0.52},{"p":"f","s":"J","d":5,"v":0.6},{"p":"f","s":"J","d":6,"v":0.68},{"p":"f","s":"J","d":7,"v":0.74},{"p":"f","s":"J","d":8,"v":0.81},{"p":"f","s":"J","d":9,"v":0.86},{"p":"f","s":"J","d":10,"v":0.9},{"p":"f","s":"J","d":11,"v":0.95},{"p":"f","s":"J","d":12,"v":0.98},{"p":"f","s":"J","d":13,"v":1.04},{"p":"f","s":"J","d":14,"v":1.06},{"p":"f","s":"J","d":15,"v":1.1},{"p":"f","s":"J","d":16,"v":1.12},{"p":"f","s":"J","d":17,"v":1.14},{"p":"f","s":"J","d":18,"v":1.16},{"p":"f","s":"J","d":19,"v":1.17},{"p":"f","s":"J","d":20,"v":1.2},{"p":"f","s":"J","d":21,"v":1.2},{"p":"f","s":"J","d":22,"v":1.21},{"p":"f","s":"J","d":23,"v":1.19},{"p":"f","s":"J","d":24,"v":1.2},{"p":"f","s":"J","d":25,"v":1.21},{"p":"f","s":"J","d":26,"v":1.21},{"p":"f","s":"J","d":27,"v":1.22},{"p":"f","s":"J","d":28,"v":1.22},{"p":"f","s":"J","d":29,"v":1.22},{"p":"f","s":"J","d":30,"v":1.22},{"p":"f","s":"J","d":31,"v":1.23},{"p":"f","s":"J","d":32,"v":1.24},{"p":"f","s":"J","d":33,"v":1.3},
      {"p":"f","s":"N","d":1,"v":0.22},{"p":"f","s":"N","d":2,"v":0.34},{"p":"f","s":"N","d":3,"v":0.45},{"p":"f","s":"N","d":4,"v":0.54},{"p":"f","s":"N","d":5,"v":0.62},{"p":"f","s":"N","d":6,"v":0.7},{"p":"f","s":"N","d":7,"v":0.76},{"p":"f","s":"N","d":8,"v":0.82},{"p":"f","s":"N","d":9,"v":0.87},{"p":"f","s":"N","d":10,"v":0.92},{"p":"f","s":"N","d":11,"v":0.96},{"p":"f","s":"N","d":12,"v":1.0},{"p":"f","s":"N","d":13,"v":1.03},{"p":"f","s":"N","d":14,"v":1.05},{"p":"f","s":"N","d":15,"v":1.07},{"p":"f","s":"N","d":16,"v":1.09},{"p":"f","s":"N","d":17,"v":1.11},{"p":"f","s":"N","d":18,"v":1.13},{"p":"f","s":"N","d":19,"v":1.15},{"p":"f","s":"N","d":20,"v":1.16},{"p":"f","s":"N","d":21,"v":1.17},{"p":"f","s":"N","d":22,"v":1.18},{"p":"f","s":"N","d":23,"v":1.18},{"p":"f","s":"N","d":24,"v":1.19},{"p":"f","s":"N","d":25,"v":1.2},{"p":"f","s":"N","d":26,"v":1.21},{"p":"f","s":"N","d":27,"v":1.21},{"p":"f","s":"N","d":28,"v":1.22},{"p":"f","s":"N","d":29,"v":1.23},{"p":"f","s":"N","d":30,"v":1.24},{"p":"f","s":"N","d":31,"v":1.25},{"p":"f","s":"N","d":32,"v":1.27},{"p":"f","s":"N","d":33,"v":1.33},{"p":"f","s":"N","d":34,"v":1.37},{"p":"f","s":"N","d":35,"v":1.38},{"p":"f","s":"N","d":36,"v":1.38},{"p":"f","s":"N","d":37,"v":1.39},{"p":"f","s":"N","d":38,"v":1.39},{"p":"f","s":"N","d":39,"v":1.4},{"p":"f","s":"N","d":40,"v":1.4},
      {"p":"f","s":"E","d":1,"v":0.22},{"p":"f","s":"E","d":2,"v":0.36},{"p":"f","s":"E","d":3,"v":0.45},{"p":"f","s":"E","d":4,"v":0.52},{"p":"f","s":"E","d":5,"v":0.6},{"p":"f","s":"E","d":6,"v":0.67},{"p":"f","s":"E","d":7,"v":0.74},{"p":"f","s":"E","d":8,"v":0.79},{"p":"f","s":"E","d":9,"v":0.82},{"p":"f","s":"E","d":10,"v":0.85},{"p":"f","s":"E","d":11,"v":0.89},{"p":"f","s":"E","d":12,"v":0.91},{"p":"f","s":"E","d":13,"v":0.95},{"p":"f","s":"E","d":14,"v":0.98},{"p":"f","s":"E","d":15,"v":1.01},{"p":"f","s":"E","d":16,"v":1.02},{"p":"f","s":"E","d":17,"v":1.04},{"p":"f","s":"E","d":18,"v":1.06},{"p":"f","s":"E","d":19,"v":1.1},{"p":"f","s":"E","d":20,"v":1.12},{"p":"f","s":"E","d":21,"v":1.14},{"p":"f","s":"E","d":22,"v":1.16},{"p":"f","s":"E","d":23,"v":1.16},{"p":"f","s":"E","d":24,"v":1.18},{"p":"f","s":"E","d":25,"v":1.19},{"p":"f","s":"E","d":26,"v":1.2},{"p":"f","s":"E","d":27,"v":1.21},{"p":"f","s":"E","d":28,"v":1.21},{"p":"f","s":"E","d":29,"v":1.21},{"p":"f","s":"E","d":30,"v":1.21},{"p":"f","s":"E","d":31,"v":1.22},
      {"p":"f","s":"M","d":1,"v":0.2},{"p":"f","s":"M","d":2,"v":0.31},{"p":"f","s":"M","d":3,"v":0.43},{"p":"f","s":"M","d":4,"v":0.54},{"p":"f","s":"M","d":5,"v":0.6},{"p":"f","s":"M","d":6,"v":0.66},{"p":"f","s":"M","d":7,"v":0.7},{"p":"f","s":"M","d":8,"v":0.79},{"p":"f","s":"M","d":9,"v":0.83},{"p":"f","s":"M","d":10,"v":0.84},{"p":"f","s":"M","d":11,"v":0.87},{"p":"f","s":"M","d":12,"v":0.91},{"p":"f","s":"M","d":13,"v":0.92},{"p":"f","s":"M","d":14,"v":0.96},{"p":"f","s":"M","d":15,"v":0.98},{"p":"f","s":"M","d":16,"v":1.0},{"p":"f","s":"M","d":17,"v":1.03},{"p":"f","s":"M","d":18,"v":1.07},{"p":"f","s":"M","d":19,"v":1.1},{"p":"f","s":"M","d":20,"v":1.1},{"p":"f","s":"M","d":21,"v":1.1},{"p":"f","s":"M","d":22,"v":1.11},{"p":"f","s":"M","d":23,"v":1.1},{"p":"f","s":"M","d":24,"v":1.13},{"p":"f","s":"M","d":25,"v":1.13},{"p":"f","s":"M","d":26,"v":1.16},{"p":"f","s":"M","d":27,"v":1.19},{"p":"f","s":"M","d":28,"v":1.2},{"p":"f","s":"M","d":29,"v":1.2},{"p":"f","s":"M","d":30,"v":1.21},{"p":"f","s":"M","d":31,"v":1.21}
    ]
  },
  "columns": 2,
  "spacing": {"row": 145, "column": 114},
  "bounds": "flush",
  "concat": [
    {"width": 1166, "height": 900, "layer": [
      {"data": {"name": "shade"}, "transform": [{"filter": "datum.p == 'a'"}], "mark": {"type": "area", "fill": "#000000", "fillOpacity": 0.1, "stroke": "#000000", "strokeOpacity": 0.2, "strokeWidth": 2}, "encoding": {"x": {"field": "d", "type": "quantitative", "scale": {"domain": [0, 40], "nice": false}, "axis": {"values": [0, 5, 10, 15, 20, 25, 30, 35, 40], "title": null}}, "y": {"field": "v", "type": "quantitative", "scale": {"domain": [0, 1.5], "nice": false}, "axis": {"values": [0, 0.2, 0.4, 0.6, 0.8, 1.0, 1.2, 1.4], "format": ".1f", "title": null}}}},
      {"data": {"name": "pts"}, "transform": [{"filter": "datum.p == 'a'"}], "mark": {"type": "text", "font": "Liberation Serif", "fontStyle": "italic", "fontSize": 47, "clip": true}, "encoding": {"x": {"field": "d", "type": "quantitative"}, "y": {"field": "v", "type": "quantitative"}, "text": {"field": "s"}, "color": {"field": "s", "type": "nominal", "scale": {"domain": ["J", "N", "E", "M"], "range": ["#000000", "#333333", "#111111", "#333333"]}, "legend": null}}},
      {"data": {"name": "panels"}, "transform": [{"filter": "datum.p == 'a'"}], "mark": {"type": "text", "font": "DejaVu Sans", "fontSize": 60, "align": "left", "baseline": "alphabetic", "dx": 28, "dy": -28, "color": "#000000"}, "encoding": {"x": {"field": "cut", "type": "quantitative"}, "y": {"datum": 0}, "text": {"field": "label"}}},
      {"data": {"name": "panels"}, "transform": [{"filter": "datum.p == 'a'"}], "mark": {"type": "text", "font": "DejaVu Sans", "fontSize": 58, "align": "right", "baseline": "alphabetic", "dx": -8, "dy": -13, "color": "#000000"}, "encoding": {"x": {"datum": 40}, "y": {"datum": 1.5}, "text": {"field": "name"}}},
      {"data": {"name": "panels"}, "transform": [{"filter": "datum.p == 'a'"}], "mark": {"type": "text", "font": "DejaVu Sans", "fontSize": 58, "align": "left", "baseline": "alphabetic", "dx": -10, "dy": -13, "color": "#000000"}, "encoding": {"x": {"datum": 0}, "y": {"datum": 1.5}, "text": {"field": "tag"}}}
    ]},
    {"width": 1166, "height": 900, "layer": [
      {"data": {"name": "shade"}, "transform": [{"filter": "datum.p == 'b'"}], "mark": {"type": "area", "fill": "#000000", "fillOpacity": 0.1, "stroke": "#000000", "strokeOpacity": 0.2, "strokeWidth": 2}, "encoding": {"x": {"field": "d", "type": "quantitative", "scale": {"domain": [0, 40], "nice": false}, "axis": {"values": [0, 5, 10, 15, 20, 25, 30, 35, 40], "title": null}}, "y": {"field": "v", "type": "quantitative", "scale": {"domain": [0, 1.5], "nice": false}, "axis": {"values": [0, 0.2, 0.4, 0.6, 0.8, 1.0, 1.2, 1.4], "format": ".1f", "title": null}}}},
      {"data": {"name": "pts"}, "transform": [{"filter": "datum.p == 'b'"}], "mark": {"type": "text", "font": "Liberation Serif", "fontStyle": "italic", "fontSize": 47, "clip": true}, "encoding": {"x": {"field": "d", "type": "quantitative"}, "y": {"field": "v", "type": "quantitative"}, "text": {"field": "s"}, "color": {"field": "s", "type": "nominal", "scale": {"domain": ["J", "N", "E", "M"], "range": ["#000000", "#333333", "#111111", "#333333"]}, "legend": null}}},
      {"data": {"name": "panels"}, "transform": [{"filter": "datum.p == 'b'"}], "mark": {"type": "text", "font": "DejaVu Sans", "fontSize": 60, "align": "left", "baseline": "alphabetic", "dx": 28, "dy": -28, "color": "#000000"}, "encoding": {"x": {"field": "cut", "type": "quantitative"}, "y": {"datum": 0}, "text": {"field": "label"}}},
      {"data": {"name": "panels"}, "transform": [{"filter": "datum.p == 'b'"}], "mark": {"type": "text", "font": "DejaVu Sans", "fontSize": 58, "align": "right", "baseline": "alphabetic", "dx": -8, "dy": -13, "color": "#000000"}, "encoding": {"x": {"datum": 40}, "y": {"datum": 1.5}, "text": {"field": "name"}}},
      {"data": {"name": "panels"}, "transform": [{"filter": "datum.p == 'b'"}], "mark": {"type": "text", "font": "DejaVu Sans", "fontSize": 58, "align": "left", "baseline": "alphabetic", "dx": -10, "dy": -13, "color": "#000000"}, "encoding": {"x": {"datum": 0}, "y": {"datum": 1.5}, "text": {"field": "tag"}}}
    ]},
    {"width": 1166, "height": 900, "layer": [
      {"data": {"name": "shade"}, "transform": [{"filter": "datum.p == 'c'"}], "mark": {"type": "area", "fill": "#000000", "fillOpacity": 0.1, "stroke": "#000000", "strokeOpacity": 0.2, "strokeWidth": 2}, "encoding": {"x": {"field": "d", "type": "quantitative", "scale": {"domain": [0, 40], "nice": false}, "axis": {"values": [0, 5, 10, 15, 20, 25, 30, 35, 40], "title": null}}, "y": {"field": "v", "type": "quantitative", "scale": {"domain": [0, 1.5], "nice": false}, "axis": {"values": [0, 0.2, 0.4, 0.6, 0.8, 1.0, 1.2, 1.4], "format": ".1f", "title": null}}}},
      {"data": {"name": "pts"}, "transform": [{"filter": "datum.p == 'c'"}], "mark": {"type": "text", "font": "Liberation Serif", "fontStyle": "italic", "fontSize": 47, "clip": true}, "encoding": {"x": {"field": "d", "type": "quantitative"}, "y": {"field": "v", "type": "quantitative"}, "text": {"field": "s"}, "color": {"field": "s", "type": "nominal", "scale": {"domain": ["J", "N", "E", "M"], "range": ["#000000", "#333333", "#111111", "#333333"]}, "legend": null}}},
      {"data": {"name": "panels"}, "transform": [{"filter": "datum.p == 'c'"}], "mark": {"type": "text", "font": "DejaVu Sans", "fontSize": 60, "align": "left", "baseline": "alphabetic", "dx": 28, "dy": -28, "color": "#000000"}, "encoding": {"x": {"field": "cut", "type": "quantitative"}, "y": {"datum": 0}, "text": {"field": "label"}}},
      {"data": {"name": "panels"}, "transform": [{"filter": "datum.p == 'c'"}], "mark": {"type": "text", "font": "DejaVu Sans", "fontSize": 58, "align": "right", "baseline": "alphabetic", "dx": -8, "dy": -13, "color": "#000000"}, "encoding": {"x": {"datum": 40}, "y": {"datum": 1.5}, "text": {"field": "name"}}},
      {"data": {"name": "panels"}, "transform": [{"filter": "datum.p == 'c'"}], "mark": {"type": "text", "font": "DejaVu Sans", "fontSize": 58, "align": "left", "baseline": "alphabetic", "dx": -10, "dy": -13, "color": "#000000"}, "encoding": {"x": {"datum": 0}, "y": {"datum": 1.5}, "text": {"field": "tag"}}}
    ]},
    {"width": 1166, "height": 900, "layer": [
      {"data": {"name": "shade"}, "transform": [{"filter": "datum.p == 'd'"}], "mark": {"type": "area", "fill": "#000000", "fillOpacity": 0.1, "stroke": "#000000", "strokeOpacity": 0.2, "strokeWidth": 2}, "encoding": {"x": {"field": "d", "type": "quantitative", "scale": {"domain": [0, 40], "nice": false}, "axis": {"values": [0, 5, 10, 15, 20, 25, 30, 35, 40], "title": null}}, "y": {"field": "v", "type": "quantitative", "scale": {"domain": [0, 1.5], "nice": false}, "axis": {"values": [0, 0.2, 0.4, 0.6, 0.8, 1.0, 1.2, 1.4], "format": ".1f", "title": null}}}},
      {"data": {"name": "pts"}, "transform": [{"filter": "datum.p == 'd'"}], "mark": {"type": "text", "font": "Liberation Serif", "fontStyle": "italic", "fontSize": 47, "clip": true}, "encoding": {"x": {"field": "d", "type": "quantitative"}, "y": {"field": "v", "type": "quantitative"}, "text": {"field": "s"}, "color": {"field": "s", "type": "nominal", "scale": {"domain": ["J", "N", "E", "M"], "range": ["#000000", "#333333", "#111111", "#333333"]}, "legend": null}}},
      {"data": {"name": "panels"}, "transform": [{"filter": "datum.p == 'd'"}], "mark": {"type": "text", "font": "DejaVu Sans", "fontSize": 60, "align": "left", "baseline": "alphabetic", "dx": 18, "dy": -32, "color": "#000000"}, "encoding": {"x": {"field": "cut", "type": "quantitative"}, "y": {"datum": 0}, "text": {"field": "label"}}},
      {"data": {"name": "panels"}, "transform": [{"filter": "datum.p == 'd'"}], "mark": {"type": "text", "font": "DejaVu Sans", "fontSize": 58, "align": "right", "baseline": "alphabetic", "dx": -8, "dy": -13, "color": "#000000"}, "encoding": {"x": {"datum": 40}, "y": {"datum": 1.5}, "text": {"field": "name"}}},
      {"data": {"name": "panels"}, "transform": [{"filter": "datum.p == 'd'"}], "mark": {"type": "text", "font": "DejaVu Sans", "fontSize": 58, "align": "left", "baseline": "alphabetic", "dx": -10, "dy": -13, "color": "#000000"}, "encoding": {"x": {"datum": 0}, "y": {"datum": 1.5}, "text": {"field": "tag"}}}
    ]},
    {"width": 1166, "height": 900, "layer": [
      {"data": {"name": "shade"}, "transform": [{"filter": "datum.p == 'e'"}], "mark": {"type": "area", "fill": "#000000", "fillOpacity": 0.1, "stroke": "#000000", "strokeOpacity": 0.2, "strokeWidth": 2}, "encoding": {"x": {"field": "d", "type": "quantitative", "scale": {"domain": [0, 40], "nice": false}, "axis": {"values": [0, 5, 10, 15, 20, 25, 30, 35, 40], "title": null}}, "y": {"field": "v", "type": "quantitative", "scale": {"domain": [0, 1.5], "nice": false}, "axis": {"values": [0, 0.2, 0.4, 0.6, 0.8, 1.0, 1.2, 1.4], "format": ".1f", "title": null}}}},
      {"data": {"name": "pts"}, "transform": [{"filter": "datum.p == 'e'"}], "mark": {"type": "text", "font": "Liberation Serif", "fontStyle": "italic", "fontSize": 47, "clip": true}, "encoding": {"x": {"field": "d", "type": "quantitative"}, "y": {"field": "v", "type": "quantitative"}, "text": {"field": "s"}, "color": {"field": "s", "type": "nominal", "scale": {"domain": ["J", "N", "E", "M"], "range": ["#000000", "#333333", "#111111", "#333333"]}, "legend": null}}},
      {"data": {"name": "panels"}, "transform": [{"filter": "datum.p == 'e'"}], "mark": {"type": "text", "font": "DejaVu Sans", "fontSize": 60, "align": "left", "baseline": "alphabetic", "dx": 28, "dy": -30, "color": "#000000"}, "encoding": {"x": {"field": "cut", "type": "quantitative"}, "y": {"datum": 0}, "text": {"field": "label"}}},
      {"data": {"name": "panels"}, "transform": [{"filter": "datum.p == 'e'"}], "mark": {"type": "text", "font": "DejaVu Sans", "fontSize": 58, "align": "right", "baseline": "alphabetic", "dx": -8, "dy": -13, "color": "#000000"}, "encoding": {"x": {"datum": 40}, "y": {"datum": 1.5}, "text": {"field": "name"}}},
      {"data": {"name": "panels"}, "transform": [{"filter": "datum.p == 'e'"}], "mark": {"type": "text", "font": "DejaVu Sans", "fontSize": 58, "align": "left", "baseline": "alphabetic", "dx": -10, "dy": -13, "color": "#000000"}, "encoding": {"x": {"datum": 0}, "y": {"datum": 1.5}, "text": {"field": "tag"}}}
    ]},
    {"width": 1166, "height": 900, "layer": [
      {"data": {"name": "shade"}, "transform": [{"filter": "datum.p == 'f'"}], "mark": {"type": "area", "fill": "#000000", "fillOpacity": 0.1, "stroke": "#000000", "strokeOpacity": 0.2, "strokeWidth": 2}, "encoding": {"x": {"field": "d", "type": "quantitative", "scale": {"domain": [0, 40], "nice": false}, "axis": {"values": [0, 5, 10, 15, 20, 25, 30, 35, 40], "title": null}}, "y": {"field": "v", "type": "quantitative", "scale": {"domain": [0, 1.5], "nice": false}, "axis": {"values": [0, 0.2, 0.4, 0.6, 0.8, 1.0, 1.2, 1.4], "format": ".1f", "title": null}}}},
      {"data": {"name": "pts"}, "transform": [{"filter": "datum.p == 'f'"}], "mark": {"type": "text", "font": "Liberation Serif", "fontStyle": "italic", "fontSize": 47, "clip": true}, "encoding": {"x": {"field": "d", "type": "quantitative"}, "y": {"field": "v", "type": "quantitative"}, "text": {"field": "s"}, "color": {"field": "s", "type": "nominal", "scale": {"domain": ["J", "N", "E", "M"], "range": ["#000000", "#333333", "#111111", "#333333"]}, "legend": null}}},
      {"data": {"name": "panels"}, "transform": [{"filter": "datum.p == 'f'"}], "mark": {"type": "text", "font": "DejaVu Sans", "fontSize": 60, "align": "left", "baseline": "alphabetic", "dx": 28, "dy": -30, "color": "#000000"}, "encoding": {"x": {"field": "cut", "type": "quantitative"}, "y": {"datum": 0}, "text": {"field": "label"}}},
      {"data": {"name": "panels"}, "transform": [{"filter": "datum.p == 'f'"}], "mark": {"type": "text", "font": "DejaVu Sans", "fontSize": 58, "align": "right", "baseline": "alphabetic", "dx": -8, "dy": -13, "color": "#000000"}, "encoding": {"x": {"datum": 40}, "y": {"datum": 1.5}, "text": {"field": "name"}}},
      {"data": {"name": "panels"}, "transform": [{"filter": "datum.p == 'f'"}], "mark": {"type": "text", "font": "DejaVu Sans", "fontSize": 58, "align": "left", "baseline": "alphabetic", "dx": -10, "dy": -13, "color": "#000000"}, "encoding": {"x": {"datum": 0}, "y": {"datum": 1.5}, "text": {"field": "tag"}}}
    ]}
  ],
  "config": {
    "view": {"stroke": "#333333", "strokeWidth": 3},
    "font": "DejaVu Sans",
    "axis": {
      "labelFont": "DejaVu Sans",
      "labelFontSize": 44,
      "labelColor": "#000000",
      "domain": false,
      "grid": true,
      "gridColor": "#888888",
      "gridDash": [3, 7],
      "gridWidth": 2,
      "ticks": false,
      "labelOverlap": false,
      "labelFlush": false
    },
    "axisX": {"labelPadding": 11},
    "axisY": {"labelPadding": 13}
  }
}
